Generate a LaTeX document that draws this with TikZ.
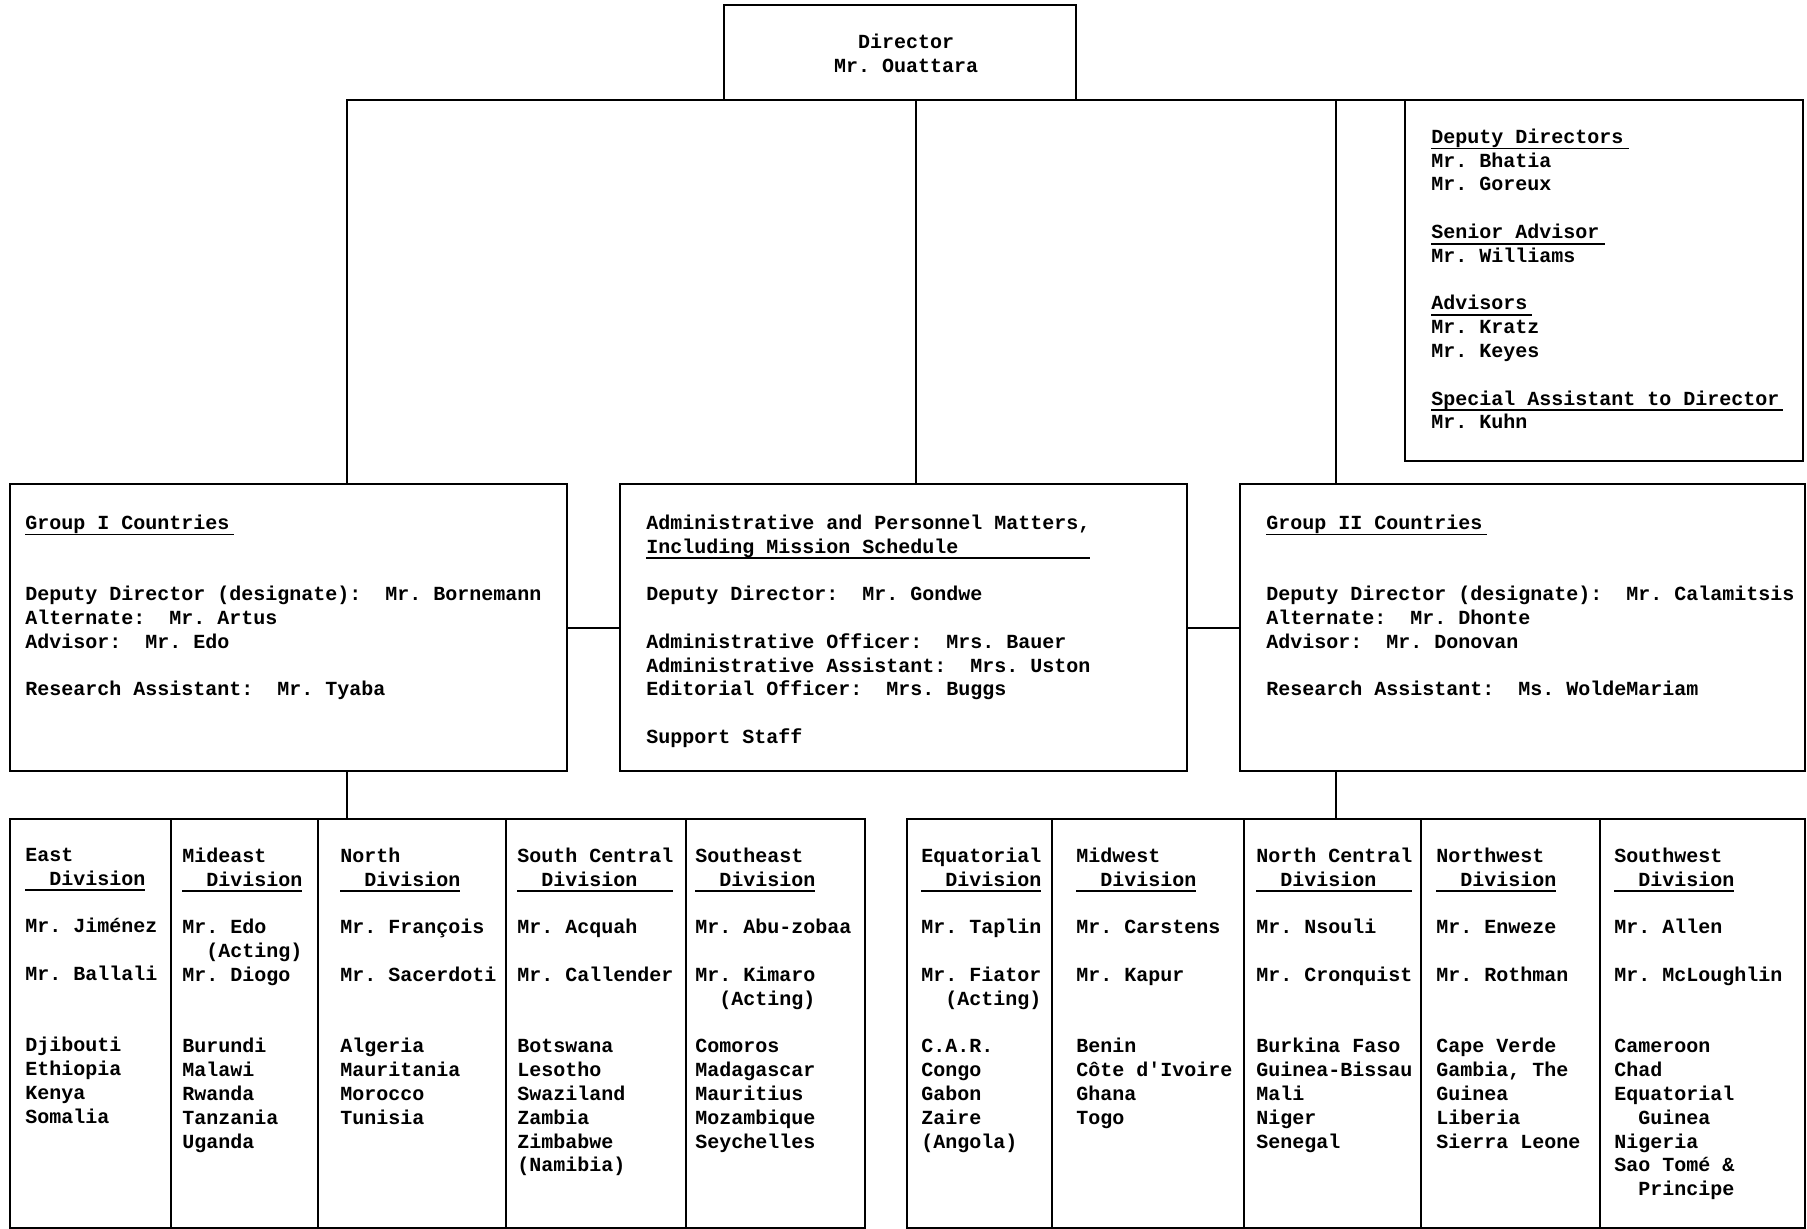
\documentclass[tikz,border=0pt]{standalone}
\usepackage{fontspec}
\setmonofont{Liberation Mono}
\usetikzlibrary{positioning}
\newcommand{\orgfont}{\ttfamily\bfseries\fontsize{10}{11.9}\selectfont\frenchspacing}
\newcommand{\undl}[2]{\rlap{\rule[-3pt]{\dimexpr#1em*6/10\relax}{0.9pt}}#2}
\newcommand{\twosp}{\hspace*{1.2em}}
\tikzset{
    box/.style={draw, rectangle, line width=1.1pt, inner sep=0pt, outer sep=0pt, anchor=north west},
    midbox/.style={box, minimum height=143.5pt},
    divbox/.style={box, minimum height=204.5pt},
    link/.style={line width=1pt},
    txt/.style={anchor=north west, inner sep=0pt, align=left, font=\orgfont, execute at begin node=\strut}
}
\begin{document}
\begin{tikzpicture}[x=0.5pt, y=-0.5pt]
\useasboundingbox (0,0) rectangle (1807,1229);
% top level
\node[box, minimum width=176pt, minimum height=47.5pt] (dir) at (724,5) {};
\node[box, minimum width=199pt, minimum height=180.5pt] (dep) at (1405,100) {};
% groups
\node[midbox, minimum width=278.5pt] (g1) at (10,484) {};
\node[midbox, minimum width=283.5pt] (adm) at (620,484) {};
\node[midbox, minimum width=282.5pt] (g2) at (1240,484) {};
% divisions, group I
\node[divbox, minimum width=80.5pt] (east) at (10,819) {};
\node[divbox, minimum width=73.5pt, right=0pt of east] (mideast) {};
\node[divbox, minimum width=94pt, right=0pt of mideast] (north) {};
\node[divbox, minimum width=90pt, right=0pt of north] (scen) {};
\node[divbox, minimum width=89.5pt, right=0pt of scen] (seast) {};
% divisions, group II
\node[divbox, minimum width=72.5pt] (equat) at (907,819) {};
\node[divbox, minimum width=96pt, right=0pt of equat] (midw) {};
\node[divbox, minimum width=88.5pt, right=0pt of midw] (ncen) {};
\node[divbox, minimum width=89.5pt, right=0pt of ncen] (nwest) {};
\node[divbox, minimum width=102.5pt, right=0pt of nwest] (swest) {};

% links
\coordinate (barL) at (347,100);
\coordinate (barM) at (916,100);
\coordinate (barR) at (1336,100);
\draw[link] (barL |- g1.north) -- (barL) -- (dep.north west);
\draw[link] (barM) -- (barM |- adm.north);
\draw[link] (barR) -- (barR |- g2.north);
\draw[link] (g1.east) -- (adm.west);
\draw[link] (adm.east) -- (g2.west);
\draw[link] (barL |- g1.south) -- (barL |- north.north);
\draw[link] (barR |- g2.south) -- (barR |- ncen.north);

% texts
\node[txt, anchor=north, align=center] (dirT) at (906,33.5) {Director\\Mr. Ouattara};
\node[txt] (depT) at (1431,128.5) {\undl{16.5}{Deputy Directors}\\Mr. Bhatia\\Mr. Goreux\\[11.9pt]\undl{14.5}{Senior Advisor}\\Mr. Williams\\[11.9pt]\undl{8.4}{Advisors}\\Mr. Kratz\\Mr. Keyes\\[11.9pt]\undl{29.3}{Special Assistant to Director}\\Mr. Kuhn};
\node[txt] (g1T) at (25,514.5) {\undl{17.4}{Group I Countries}\\[23.8pt]Deputy Director (designate):\ \ Mr. Bornemann\\Alternate:\ \ Mr. Artus\\Advisor:\ \ Mr. Edo\\[11.9pt]Research Assistant:\ \ Mr. Tyaba};
\node[txt] (admT) at (646,514.5) {Administrative and Personnel Matters,\\\undl{37}{Including Mission Schedule}\\[11.9pt]Deputy Director:\ \ Mr. Gondwe\\[11.9pt]Administrative Officer:\ \ Mrs. Bauer\\Administrative Assistant:\ \ Mrs. Uston\\Editorial Officer:\ \ Mrs. Buggs\\[11.9pt]Support Staff};
\node[txt] (g2T) at (1266,514.5) {\undl{18.4}{Group II Countries}\\[23.8pt]Deputy Director (designate):\ \ Mr. Calamitsis\\Alternate:\ \ Mr. Dhonte\\Advisor:\ \ Mr. Donovan\\[11.9pt]Research Assistant:\ \ Ms. WoldeMariam};

\node[txt] (eastT) at (25,847.5) {East\\\undl{10}{\twosp Division}\\[11.9pt]Mr. Jiménez\\[11.9pt]Mr. Ballali\\[23.8pt]Djibouti\\Ethiopia\\Kenya\\Somalia};
\node[txt] (mideastT) at (182,847.5) {Mideast\\\undl{10}{\twosp Division}\\[11.9pt]Mr. Edo\\\twosp(Acting)\\Mr. Diogo\\[23.8pt]Burundi\\Malawi\\Rwanda\\Tanzania\\Uganda};
\node[txt] (northT) at (340,847.5) {North\\\undl{10}{\twosp Division}\\[11.9pt]Mr. François\\[11.9pt]Mr. Sacerdoti\\[23.8pt]Algeria\\Mauritania\\Morocco\\Tunisia};
\node[txt] (scenT) at (517,847.5) {South Central\\\undl{13}{\twosp Division}\\[11.9pt]Mr. Acquah\\[11.9pt]Mr. Callender\\[23.8pt]Botswana\\Lesotho\\Swaziland\\Zambia\\Zimbabwe\\(Namibia)};
\node[txt] (seastT) at (695,847.5) {Southeast\\\undl{10}{\twosp Division}\\[11.9pt]Mr. Abu-zobaa\\[11.9pt]Mr. Kimaro\\\twosp(Acting)\\[11.9pt]Comoros\\Madagascar\\Mauritius\\Mozambique\\Seychelles};
\node[txt] (equatT) at (921,847.5) {Equatorial\\\undl{10}{\twosp Division}\\[11.9pt]Mr. Taplin\\[11.9pt]Mr. Fiator\\\twosp(Acting)\\[11.9pt]C.A.R.\\Congo\\Gabon\\Zaire\\(Angola)};
\node[txt] (midwT) at (1076,847.5) {Midwest\\\undl{10}{\twosp Division}\\[11.9pt]Mr. Carstens\\[11.9pt]Mr. Kapur\\[23.8pt]Benin\\Côte d'Ivoire\\Ghana\\Togo};
\node[txt] (ncenT) at (1256,847.5) {North Central\\\undl{13}{\twosp Division}\\[11.9pt]Mr. Nsouli\\[11.9pt]Mr. Cronquist\\[23.8pt]Burkina Faso\\Guinea-Bissau\\Mali\\Niger\\Senegal};
\node[txt] (nwestT) at (1436,847.5) {Northwest\\\undl{10}{\twosp Division}\\[11.9pt]Mr. Enweze\\[11.9pt]Mr. Rothman\\[23.8pt]Cape Verde\\Gambia, The\\Guinea\\Liberia\\Sierra Leone};
\node[txt] (swestT) at (1614,847.5) {Southwest\\\undl{10}{\twosp Division}\\[11.9pt]Mr. Allen\\[11.9pt]Mr. McLoughlin\\[23.8pt]Cameroon\\Chad\\Equatorial\\\twosp Guinea\\Nigeria\\Sao Tomé \&\\\twosp Principe};
\end{tikzpicture}
\end{document}
